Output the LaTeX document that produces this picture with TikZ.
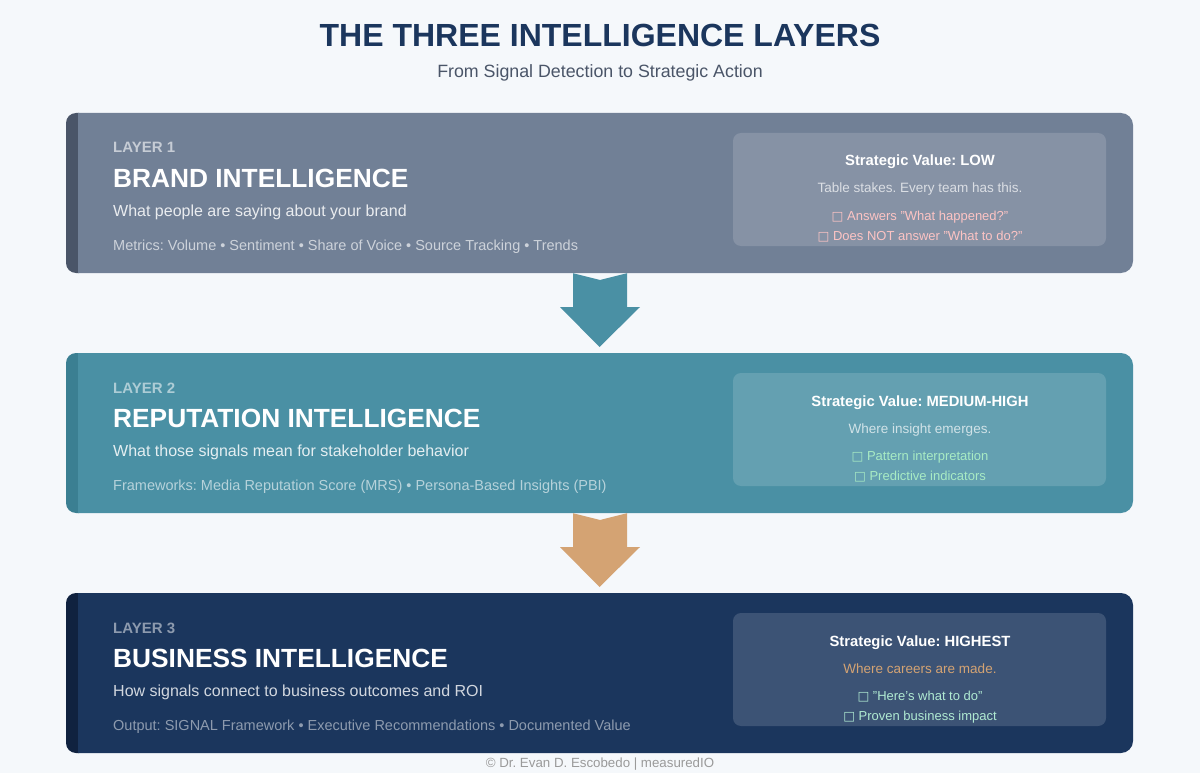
\documentclass[tikz,border=0pt]{standalone}
\usepackage{fontspec}
\setmainfont{Liberation Sans}
\newfontfamily\symfont{DejaVu Sans}
\definecolor{bg}{HTML}{F5F8FB}
\definecolor{navy}{HTML}{1B365D}
\definecolor{subgray}{HTML}{4A5568}
\definecolor{lOne}{HTML}{718096}
\definecolor{lOneAcc}{HTML}{4A5568}
\definecolor{lTwo}{HTML}{4A90A4}
\definecolor{lTwoAcc}{HTML}{3B7F92}
\definecolor{lThree}{HTML}{1B365D}
\definecolor{lThreeAcc}{HTML}{10223F}
\definecolor{tan}{HTML}{D4A373}
\definecolor{pinkb}{HTML}{FDC4C4}
\definecolor{greenb}{HTML}{A8EBC4}
\definecolor{greenc}{HTML}{B0EAD2}
\definecolor{footgray}{HTML}{9A9A9A}
\tikzset{
  panel/.style={fill=white,fill opacity=0.15},
  lbl/.style={anchor=base west,inner sep=0pt,font=\bfseries\fontsize{15}{18}\selectfont},
  ttl/.style={anchor=base west,inner sep=0pt,font=\bfseries\fontsize{26.3}{30}\selectfont,text=white},
  desc/.style={anchor=base west,inner sep=0pt,font=\fontsize{16}{19}\selectfont},
  metr/.style={anchor=base west,inner sep=0pt,font=\fontsize{14.5}{17}\selectfont},
  pvh/.style={anchor=base,inner sep=0pt,font=\bfseries\fontsize{14.8}{17}\selectfont,text=white},
  pvt/.style={anchor=base,inner sep=0pt,font=\fontsize{13.5}{16}\selectfont},
  pvb/.style={anchor=base,inner sep=0pt,font=\fontsize{13}{16}\selectfont}
}
\newcommand{\tofu}{{\symfont\fontsize{12.5}{13}\selectfont □}}
% rounded rectangle path: x1,y1,x2,y2,r  (y grows downwards)
\newcommand{\rrpath}[5]{%
  (#1+#5,#2) -- (#3-#5,#2) .. controls (#3-0.45*#5,#2) and (#3,#2+0.45*#5) .. (#3,#2+#5)
  -- (#3,#4-#5) .. controls (#3,#4-0.45*#5) and (#3-0.45*#5,#4) .. (#3-#5,#4)
  -- (#1+#5,#4) .. controls (#1+0.45*#5,#4) and (#1,#4-0.45*#5) .. (#1,#4-#5)
  -- (#1,#2+#5) .. controls (#1,#2+0.45*#5) and (#1+0.45*#5,#2) .. (#1+#5,#2) -- cycle}
% layer box: #1 top y, #2 fill, #3 accent
\newcommand{\layerbox}[3]{%
  \fill[#3] (79,#1) -- (79,#1+160) -- (76,#1+160) .. controls (70.5,#1+160) and (66,#1+155.5) .. (66,#1+150)
    -- (66,#1+10) .. controls (66,#1+4.5) and (70.5,#1) .. (76,#1) -- cycle;
  \fill[#2] (78,#1) -- (1121,#1) .. controls (1127.6,#1) and (1133,#1+5.4) .. (1133,#1+12)
    -- (1133,#1+148) .. controls (1133,#1+154.6) and (1127.6,#1+160) .. (1121,#1+160)
    -- (78,#1+160) -- cycle;
}
\newcommand{\panelbox}[1]{%
  \fill[panel] \rrpath{733}{#1}{1106}{#1+113}{8};
}
\begin{document}
\frenchspacing
\begin{tikzpicture}[x=1pt,y=-1pt]
\useasboundingbox (0,0) rectangle (1200,773);
\fill[bg] (0,0) -- (1200,0) -- (1200,773) -- (0,773) -- cycle;

% title
\node[anchor=base,inner sep=0pt,font=\bfseries\fontsize{32}{36}\selectfont,text=navy] (title) at (600,47) {THE THREE INTELLIGENCE LAYERS};
\node[anchor=base,inner sep=0pt,font=\fontsize{17.8}{21}\selectfont,text=subgray] (subtitle) at (600,78) {From Signal Detection to Strategic Action};

% ---------- layer 1
\layerbox{113}{lOne}{lOneAcc}
\node[minimum width=1067pt,minimum height=160pt,inner sep=0pt] (L1) at (599.5,193) {};
\node[lbl,text=white,text opacity=0.6] (L1a) at (113,153) {LAYER 1};
\node[ttl] (L1b) at (113,187) {BRAND INTELLIGENCE};
\node[desc,text=white,text opacity=0.85] (L1c) at (113,216) {What people are saying about your brand};
\node[metr,text=white,text opacity=0.65] (L1d) at (113,250) {Metrics: Volume • Sentiment • Share of Voice • Source Tracking • Trends};
\panelbox{133}
\node[pvh] (P1a) at (920,166) {Strategic Value: LOW};
\node[pvt,text=white,text opacity=0.7] (P1b) at (920,193) {Table stakes. Every team has this.};
\node[pvb,text=pinkb] (P1c) at (920,220) {\tofu{} Answers "What happened?"};
\node[pvb,text=pinkb] (P1d) at (920,240) {\tofu{} Does NOT answer "What to do?"};

% ---------- layer 2
\layerbox{353}{lTwo}{lTwoAcc}
\node[minimum width=1067pt,minimum height=160pt,inner sep=0pt] (L2) at (599.5,433) {};
\node[lbl,text=white,text opacity=0.55] (L2a) at (113,393) {LAYER 2};
\node[ttl] (L2b) at (113,427) {REPUTATION INTELLIGENCE};
\node[desc,text=white,text opacity=0.85] (L2c) at (113,456) {What those signals mean for stakeholder behavior};
\node[metr,text=white,text opacity=0.6] (L2d) at (113,490) {Frameworks: Media Reputation Score (MRS) • Persona-Based Insights (PBI)};
\panelbox{373}
\node[pvh] (P2a) at (920,406) {Strategic Value: MEDIUM-HIGH};
\node[pvt,text=white,text opacity=0.7] (P2b) at (920,433) {Where insight emerges.};
\node[pvb,text=greenb] (P2c) at (920,460) {\tofu{} Pattern interpretation};
\node[pvb,text=greenb] (P2d) at (920,480) {\tofu{} Predictive indicators};

% ---------- layer 3
\layerbox{593}{lThree}{lThreeAcc}
\node[minimum width=1067pt,minimum height=160pt,inner sep=0pt] (L3) at (599.5,673) {};
\node[lbl,text=white,text opacity=0.5] (L3a) at (113,633) {LAYER 3};
\node[ttl] (L3b) at (113,667) {BUSINESS INTELLIGENCE};
\node[desc,text=white,text opacity=0.8] (L3c) at (113,696) {How signals connect to business outcomes and ROI};
\node[metr,text=white,text opacity=0.5] (L3d) at (113,730) {Output: SIGNAL Framework • Executive Recommendations • Documented Value};
\panelbox{613}
\node[pvh] (P3a) at (920,646) {Strategic Value: HIGHEST};
\node[pvt,text=tan] (P3b) at (920,673) {Where careers are made.};
\node[pvb,text=greenc] (P3c) at (920,700) {\tofu{} "Here's what to do"};
\node[pvb,text=greenc] (P3d) at (920,720) {\tofu{} Proven business impact};

% ---------- arrows
\fill[lTwo] (L1.south -| 573,0) -- (600,280) -- (L1.south -| 627,0) -- (627,307) -- (640,307) -- (L2.north |- 0,347) -- (560,307) -- (573,307) -- cycle;
\fill[tan] (L2.south -| 573,0) -- (600,520) -- (L2.south -| 627,0) -- (627,547) -- (640,547) -- (L3.north |- 0,587) -- (560,547) -- (573,547) -- cycle;

% footer
\node[anchor=base,inner sep=0pt,font=\fontsize{13.3}{15}\selectfont,text=footgray] (foot) at (600,767) {© Dr. Evan D. Escobedo | measuredIO};
\end{tikzpicture}
\end{document}
